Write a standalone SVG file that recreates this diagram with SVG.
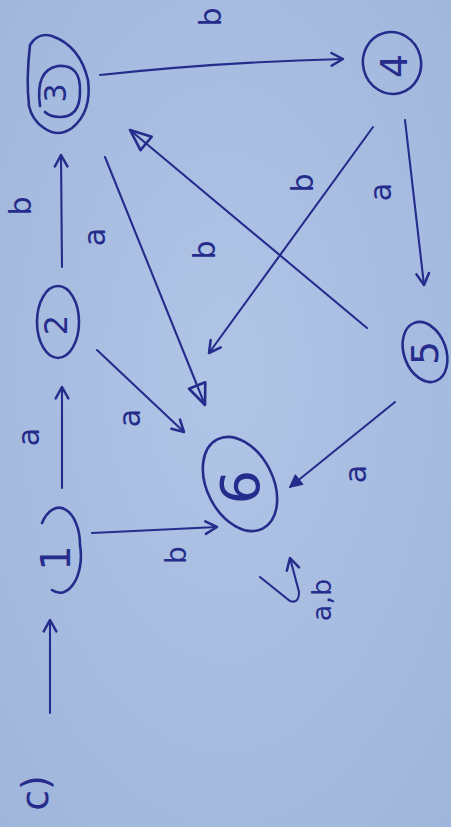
<svg xmlns="http://www.w3.org/2000/svg" width="451" height="827" viewBox="0 0 451 827">
  <defs>
    <radialGradient id="bg" cx="50%" cy="45%" r="75%">
      <stop offset="0" stop-color="#b0c5e6"/>
      <stop offset="1" stop-color="#9fb5db"/>
    </radialGradient>
    <marker id="v" viewBox="0 0 14 14" refX="12" refY="7" markerWidth="16" markerHeight="16" orient="auto" markerUnits="userSpaceOnUse">
      <path d="M2,1.5 L12,7 L2,12.5" fill="none" stroke="#262c8c" stroke-width="2.2" stroke-linecap="round" stroke-linejoin="round"/>
    </marker>
    <marker id="tri" viewBox="0 0 16 16" refX="14" refY="8" markerWidth="28" markerHeight="28" orient="auto" markerUnits="userSpaceOnUse">
      <path d="M2,3 L14,8 L2,13 Z" fill="none" stroke="#262c8c" stroke-width="1.5" stroke-linejoin="round"/>
    </marker>
    <marker id="fill" viewBox="0 0 14 14" refX="12" refY="7" markerWidth="16" markerHeight="16" orient="auto" markerUnits="userSpaceOnUse">
      <path d="M2,2 L12,7 L2,12 Z" fill="#262c8c" stroke="#262c8c" stroke-width="1.5" stroke-linejoin="round"/>
    </marker>
  </defs>
  <style>
    .ink { fill: none; stroke: #262c8c; stroke-width: 2.6; stroke-linecap: round; }
    .edge { fill: none; stroke: #262c8c; stroke-width: 2.1; stroke-linecap: round; }
    .lbl { font-family: "DejaVu Sans", "Liberation Sans", sans-serif; fill: #262c8c; text-anchor: middle; dominant-baseline: central; }
    .num { font-family: "DejaVu Sans", "Liberation Sans", sans-serif; fill: #262c8c; text-anchor: middle; dominant-baseline: central; }
  </style>
  <rect x="0" y="0" width="451" height="827" fill="url(#bg)"/>

  <g id="connectors">
    <path id="e-start" class="edge" d="M50,713 L50,620" marker-end="url(#v)"/>
    <path id="e-1-2" class="edge" d="M62,488 L62,387" marker-end="url(#v)"/>
    <path id="e-2-3" class="edge" d="M62,267 L61,155" marker-end="url(#v)"/>
    <path id="e-3-4" class="edge" d="M100,75 Q220,62 343,59" marker-end="url(#v)" stroke-width="2.6"/>
    <path id="e-3-6" class="edge" d="M105,157 L205,405" marker-end="url(#tri)"/>
    <path id="e-5-3" class="edge" d="M367,328 L130,130" marker-end="url(#tri)"/>
    <path id="e-4-6" class="edge" d="M373,127 L209,353" marker-end="url(#v)"/>
    <path id="e-4-5" class="edge" d="M405,120 L424,285" marker-end="url(#v)"/>
    <path id="e-2-6" class="edge" d="M97,350 L184,432" marker-end="url(#v)"/>
    <path id="e-5-6" class="edge" d="M395,402 L290,487" marker-end="url(#fill)"/>
    <path id="e-1-6" class="edge" d="M92,533 L217,527" marker-end="url(#v)" stroke-width="2.5"/>
    <path id="e-6-6" class="edge" d="M260,577 L290,601 Q299,604 299,592 L290,558" marker-end="url(#v)"/>
    <g id="edge-labels">
      <text class="lbl" font-size="30" transform="translate(210,17) rotate(-90)">b</text>
      <text class="lbl" font-size="30" transform="translate(20,206) rotate(-90)">b</text>
      <text class="lbl" font-size="30" transform="translate(94,237) rotate(-90)">a</text>
      <text class="lbl" font-size="30" transform="translate(204,250) rotate(-90)">b</text>
      <text class="lbl" font-size="30" transform="translate(302,183) rotate(-90)">b</text>
      <text class="lbl" font-size="30" transform="translate(380,192) rotate(-90)">a</text>
      <text class="lbl" font-size="30" transform="translate(28,437) rotate(-90)">a</text>
      <text class="lbl" font-size="30" transform="translate(129,418) rotate(-90)">a</text>
      <text class="lbl" font-size="30" transform="translate(355,474) rotate(-90)">a</text>
      <text class="lbl" font-size="28" transform="translate(176,555) rotate(-90)">b</text>
      <text class="lbl" font-size="27" transform="translate(321,600) rotate(-90)">a,b</text>
    </g>
  </g>

  <g id="node-1">
    <path class="ink" d="M42,523 A21,37 0 0 1 80,545 A21,37 0 0 1 52,590"/>
    <text class="num" font-size="40" transform="translate(56,558) rotate(-90)">1</text>
  </g>
  <g id="node-2">
    <ellipse class="ink" cx="58" cy="322" rx="21" ry="36"/>
    <text class="num" font-size="32" transform="translate(56,325) rotate(-90)">2</text>
  </g>
  <g id="node-3">
    <path class="ink" d="M30,45 Q38,32 52,36 Q80,46 88,80 Q92,112 72,128 Q58,138 44,128 Q32,120 29,106 Q26,80 30,45"/>
    <path class="ink" d="M40,106 Q35,70 58,66 Q81,64 80,92 Q80,117 60,117 Q50,117 45,112"/>
    <text class="num" font-size="30" transform="translate(55,93) rotate(-90)">3</text>
  </g>
  <g id="node-4">
    <ellipse class="ink" cx="392" cy="63" rx="29" ry="31" transform="rotate(-15 392 63)"/>
    <text class="num" font-size="38" transform="translate(394,66) rotate(-90)">4</text>
  </g>
  <g id="node-5">
    <ellipse class="ink" cx="425" cy="352" rx="21" ry="31" transform="rotate(-20 425 352)"/>
    <text class="num" font-size="38" transform="translate(425,353) rotate(-90)">5</text>
  </g>
  <g id="node-6">
    <ellipse class="ink" cx="240" cy="484" rx="33" ry="50" transform="rotate(-27 240 484)"/>
    <text class="num" font-size="54" transform="translate(240,487) rotate(-90)">6</text>
  </g>
  <g id="start-label">
    <text class="lbl" font-size="38" transform="translate(35,793) rotate(-90)">c)</text>
  </g>
</svg>
